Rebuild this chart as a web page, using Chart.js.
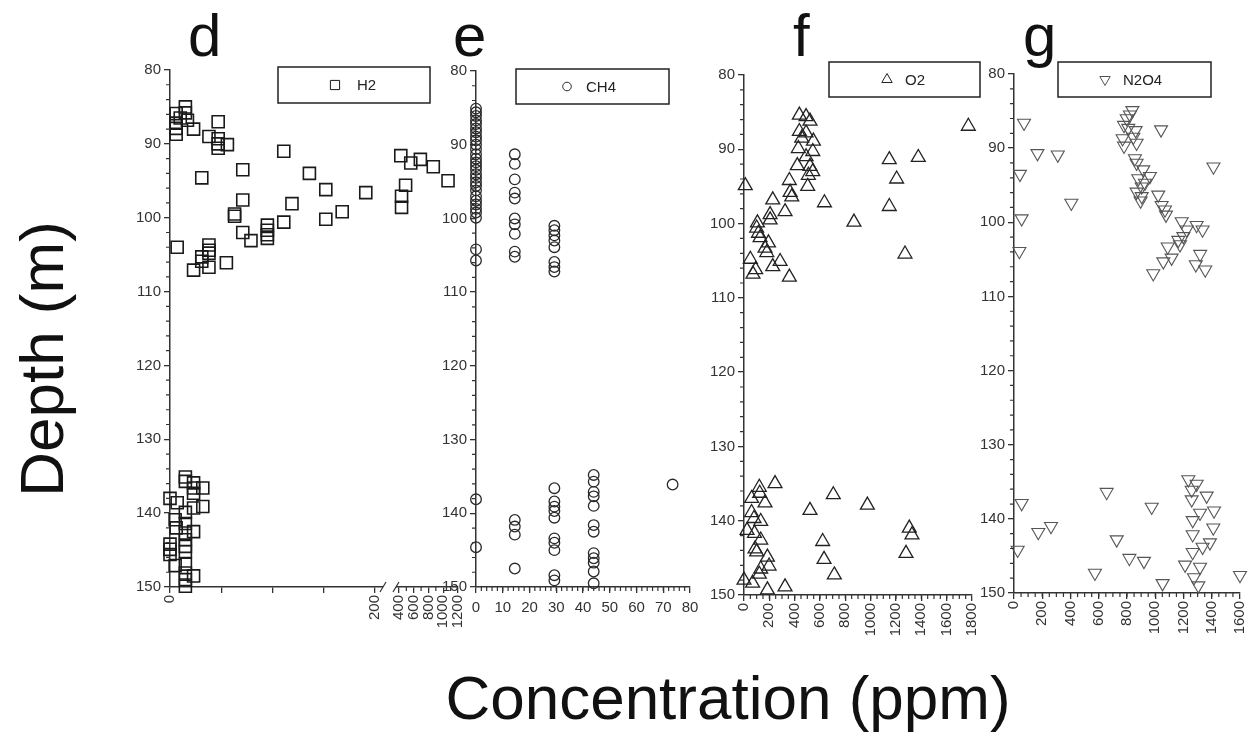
<!DOCTYPE html>
<html>
<head>
<meta charset="utf-8">
<script src="https://cdn.jsdelivr.net/npm/chart.js@4.4.1/dist/chart.umd.min.js"></script>
<style>
  body { margin: 0; width: 1251px; height: 752px; background: #fff; position: relative; overflow: hidden;
         font-family: 'Liberation Sans', Arial, sans-serif; }
  canvas { position: absolute; }
  .txt { position: absolute; color: #111; white-space: nowrap; line-height: 1; }
  .panel-letter { font-size: 60px; }
  .axis-title { font-size: 62px; transform: translate(-50%, -50%); }
</style>
</head>
<body>
<div class="txt panel-letter" style="left:188px; top:6px;">d</div>
<div class="txt panel-letter" style="left:453px; top:6px;">e</div>
<div class="txt panel-letter" style="left:793px; top:6px;">f</div>
<div class="txt panel-letter" style="left:1023px; top:6px;">g</div>
<div class="txt axis-title" style="left:42px; top:359px; transform: translate(-50%, -50%) rotate(-90deg);">Depth (m)</div>
<div class="txt axis-title" style="left:728px; top:698px;">Concentration (ppm)</div>

<script>
// ---- depth axis (shared by all four panels)
const depthTicks = [80, 90, 100, 110, 120, 130, 140, 150];

// ---- d: H2
const h2Ticks = [0, 50, 100, 150, 200, 400, 600, 800, 1000, 1200];
const h2Labels = [0, 200, 400, 600, 800, 1000, 1200];
const h2Conc = [
  15, 15, 6, 10, 6, 17, 6, 6, 23, 47, 38, 47, 47, 47, 56, 111, 31, 71, 71, 63, 63, 71, 79,
  95, 95, 95, 95, 111, 119, 136, 152, 152, 168, 191, 7, 23, 31, 31, 38, 38, 38, 38, 55,
  425, 560, 690, 865, 1065, 490, 435, 435,
  15, 15, 23, 23, 32, 23, 0, 7, 32, 23, 15, 5, 6, 23, 15, 15, 15, 15, 15, 0, 0, 0, 5, 15, 15, 15, 15, 23
];
const h2Depth = [
  85.0, 85.8, 85.9, 86.5, 87.2, 86.8, 87.9, 88.7, 88.0, 87.0, 89.0, 89.3, 90.0, 90.6, 90.1, 91.0, 94.6, 93.5, 97.6, 99.5, 99.8, 102.0, 103.1,
  101.0, 101.7, 102.3, 102.8, 100.6, 98.1, 94.0, 96.2, 100.2, 99.2, 96.6, 104.0, 107.1, 105.3, 105.9, 103.7, 104.4, 104.8, 106.7, 106.1,
  91.6, 92.6, 92.1, 93.1, 95.0, 95.6, 97.1, 98.6,
  135.1, 135.7, 135.9, 136.6, 136.6, 137.3, 138.0, 138.6, 139.1, 139.3, 139.9, 140.9, 142.0, 142.5, 141.4, 142.7, 143.6, 144.5, 145.2, 144.2, 144.9, 145.6, 147.1, 146.9, 148.1, 149.0, 149.9, 148.5
];

// ---- e: CH4
const ch4Ticks = [0, 10, 20, 30, 40, 50, 60, 70, 80];
const ch4Conc = [
  0, 0, 0, 0, 0, 0, 0, 0, 0, 0, 0, 0, 0, 0, 0, 0, 0, 0, 0, 0, 0, 0, 0, 0, 0, 0, 0, 0, 0, 0, 0,
  14.5, 14.5, 14.5, 14.5, 14.5, 14.5, 14.5, 14.5, 14.5, 14.5, 14.5, 14.5, 14.5, 14.5,
  29.3, 29.3, 29.3, 29.3, 29.3, 29.3, 29.3, 29.3, 29.3, 29.3, 29.3, 29.3, 29.3, 29.3, 29.3, 29.3, 29.3, 29.3,
  44, 44, 44, 44, 44, 44, 44, 44, 44, 44, 44, 44,
  73.5
];
const ch4Depth = [
  85.1, 85.6, 86.1, 86.7, 87.2, 87.8, 88.3, 88.9, 89.4, 90.0, 90.6, 91.3, 91.9, 92.4, 92.9, 93.4, 94.0, 94.5, 95.1, 95.6,
  96.2, 97.0, 97.6, 98.1, 98.7, 99.2, 99.9, 104.2, 105.7, 138.1, 144.6,
  91.3, 92.6, 94.7, 96.5, 97.3, 100.0, 100.8, 102.1, 104.5, 105.2, 140.9, 141.8, 142.9, 147.5,
  101.0, 101.6, 102.3, 103.0, 103.9, 105.9, 106.6, 107.2, 136.6, 138.4, 139.1, 139.7, 140.6, 143.4, 144.0, 145.0, 148.4, 149.1,
  134.8, 135.7, 137.1, 137.7, 139.0, 141.6, 142.5, 145.4, 146.1, 146.7, 147.9, 149.5,
  136.1
];

// ---- f: O2
const o2Ticks = [0, 200, 400, 600, 800, 1000, 1200, 1400, 1600, 1800];
const o2Conc = [
  10, 437, 490, 521, 437, 490, 456, 548, 429, 543, 490, 421, 521, 543, 508, 358, 503, 364, 377, 227, 635, 324, 206, 206, 868,
  1147, 1376, 1205, 1147, 1271, 106, 100, 114, 127, 193, 166, 180, 50, 285, 227, 92, 71, 358, 1771,
  245, 121, 60, 124, 166, 60, 79, 132, 24, 83, 132, 87, 100, 185, 198, 132, 121, 0, 68, 185, 324,
  521, 705, 974, 621, 632, 713, 1305, 1326, 1279
];
const o2Depth = [
  94.9, 85.4, 85.6, 86.2, 87.6, 87.8, 88.5, 88.9, 89.9, 90.3, 91.0, 92.2, 92.3, 93.0, 93.5, 94.2, 95.0, 95.8, 96.4, 96.8, 97.2, 98.4, 98.8, 99.5, 99.8,
  91.4, 91.1, 94.0, 97.7, 104.1, 99.9, 100.6, 101.3, 101.9, 102.6, 103.3, 103.9, 104.8, 105.1, 105.8, 106.2, 106.8, 107.2, 86.9,
  135.0, 135.5, 137.0, 136.3, 137.6, 138.9, 139.7, 140.1, 141.3, 141.7, 142.6, 143.8, 144.2, 144.9, 146.1, 146.5, 147.2, 148.0, 148.4, 149.3, 148.9,
  138.6, 136.5, 137.9, 142.8, 145.2, 147.3, 141.0, 141.9, 144.4
];

// ---- g: N2O4
const n2o4Ticks = [0, 200, 400, 600, 800, 1000, 1200, 1400, 1600];
const n2o4Conc = [
  71, 166, 310, 42, 406, 54, 38, 1041, 1412,
  838, 821, 798, 779, 809, 861, 769, 845, 868, 779, 856, 868, 915, 962, 880, 927, 904, 868, 904, 896,
  1021, 1045, 1069, 1076, 1187, 1293, 1335, 1222, 1199, 1163, 1088, 1175, 1116, 1057, 1318, 1287, 1354, 986,
  54, 26, 172, 262, 656, 727, 817, 920, 975, 573, 1052, 1600,
  1234, 1293, 1258, 1258, 1364, 1317, 1265, 1416, 1411, 1265, 1387, 1335, 1265, 1211, 1317, 1274, 1305
];
const n2o4Depth = [
  86.6, 90.7, 90.9, 93.5, 97.4, 99.5, 103.9, 87.5, 92.5,
  84.9, 85.5, 86.0, 86.9, 87.3, 87.6, 88.7, 88.5, 89.3, 89.7, 91.4, 92.0, 92.9, 93.8, 94.1, 94.7, 95.2, 95.9, 96.5, 97.1,
  96.3, 97.7, 98.3, 99.0, 99.9, 100.4, 101.0, 101.0, 101.9, 102.4, 103.3, 103.0, 104.8, 105.3, 104.3, 105.7, 106.4, 106.9,
  137.9, 144.2, 141.8, 141.0, 136.4, 142.8, 145.3, 145.7, 138.4, 147.3, 148.7, 147.6,
  134.7, 135.3, 136.1, 137.4, 136.9, 139.2, 140.2, 138.9, 141.2, 142.1, 143.2, 143.8, 144.5, 146.2, 146.5, 147.9, 149.0
];

const axisColor = '#333';
const fontFamily = "'Liberation Sans', Arial, sans-serif";
const PAD_L = 50, PAD_R = 14, PAD_T = 18, PAD_B = 50;

// linear scale with a gap (used by the H2 panel, 200 // 400)
class BrokenLinearScale extends Chart.LinearScale {
  static id = 'brokenLinear';
  getPixelForValue(value) {
    const b = this.options.brk;
    let dec;
    if (value <= b.from) dec = (value - this.min) / (b.from - this.min) * b.fromPos;
    else if (value >= b.to) dec = b.toPos + (value - b.to) / (this.max - b.to) * (1 - b.toPos);
    else dec = b.fromPos + (value - b.from) / (b.to - b.from) * (b.toPos - b.fromPos);
    return this.getPixelForDecimal(dec);
  }
  getValueForPixel(pixel) {
    const b = this.options.brk;
    const dec = this.getDecimalForPixel(pixel);
    if (dec <= b.fromPos) return this.min + dec / b.fromPos * (b.from - this.min);
    if (dec >= b.toPos) return b.to + (dec - b.toPos) / (1 - b.toPos) * (this.max - b.to);
    return b.from + (dec - b.fromPos) / (b.toPos - b.fromPos) * (b.to - b.from);
  }
}
Chart.register(BrokenLinearScale);

// short minor ticks + axis break marks
const minorTicks = {
  id: 'minorTicks',
  afterDraw(chart, args, opts) {
    const ctx = chart.ctx;
    const xs = chart.scales.x, ys = chart.scales.y;
    ctx.save();
    ctx.strokeStyle = axisColor;
    ctx.lineWidth = 1.2;
    ctx.beginPath();
    const xm = opts.xMinor;
    if (xm) {
      for (let v = xm.from; v <= xm.to + 1e-9; v += xm.step) {
        const px = xs.getPixelForValue(v);
        ctx.moveTo(px, xs.top);
        ctx.lineTo(px, xs.top + 4);
      }
    }
    for (let v = 80; v <= 150; v += 2) {
      if (v % 10 === 0) continue;
      const py = ys.getPixelForValue(v);
      ctx.moveTo(ys.right, py);
      ctx.lineTo(ys.right - 4, py);
    }
    ctx.stroke();
    if (opts.brk) {
      const x1 = xs.getPixelForValue(opts.brk.from) + 9;
      const x2 = xs.getPixelForValue(opts.brk.to) - 3;
      const yb = xs.top;
      ctx.fillStyle = '#fff';
      ctx.fillRect(x1 - 1, yb - 3, x2 - x1 + 1, 6);
      ctx.lineWidth = 1.2;
      ctx.beginPath();
      [x1 - 1, x2].forEach(px => {
        ctx.moveTo(px - 3, yb + 5);
        ctx.lineTo(px + 3, yb - 5);
      });
      ctx.stroke();
    }
    ctx.restore();
  }
};

// boxed legend like the original figure
const boxLegend = {
  id: 'boxLegend',
  beforeDatasetsDraw(chart, args, o) {
    const ctx = chart.ctx, a = chart.chartArea;
    const ds = chart.data.datasets[0];
    const bx = a.left + o.x, by = a.top + o.y;
    ctx.save();
    ctx.fillStyle = '#fff';
    ctx.fillRect(bx, by, o.w, o.h);
    ctx.strokeStyle = '#222';
    ctx.lineWidth = 1.5;
    ctx.strokeRect(bx, by, o.w, o.h);
    ctx.strokeStyle = ds.borderColor;
    ctx.fillStyle = 'rgba(0,0,0,0)';
    ctx.lineWidth = 1;
    Chart.helpers.drawPoint(ctx, {
      pointStyle: ds.pointStyle, radius: o.r, borderWidth: 1, rotation: ds.pointRotation || 0
    }, bx + o.mx, by + o.h / 2);
    ctx.fillStyle = '#222';
    ctx.font = '15px ' + fontFamily;
    ctx.textBaseline = 'middle';
    ctx.fillText(ds.label, bx + o.tx, by + o.h / 2 + 1);
    ctx.restore();
  }
};

function makePanel(cfg) {
  const a = cfg.area;
  const canvas = document.createElement('canvas');
  canvas.width = a.right - a.left + PAD_L + PAD_R;
  canvas.height = a.bottom - a.top + PAD_T + PAD_B;
  canvas.style.left = (a.left - PAD_L) + 'px';
  canvas.style.top = (a.top - PAD_T) + 'px';
  document.body.appendChild(canvas);

  const labels = cfg.xLabels || cfg.xTicks;
  new Chart(canvas, {
    type: 'scatter',
    data: {
      datasets: [{
        label: cfg.label,
        data: cfg.xs.map((x, i) => ({ x: x, y: cfg.ys[i] })),
        pointStyle: cfg.pointStyle,
        pointRotation: cfg.rotation || 0,
        pointRadius: cfg.radius,
        pointBorderWidth: cfg.lineWidth,
        borderColor: cfg.color,
        backgroundColor: 'rgba(0,0,0,0)',
        clip: false
      }]
    },
    options: {
      responsive: false,
      animation: false,
      events: [],
      layout: { padding: { top: PAD_T, right: PAD_R, left: 0, bottom: 0 }, autoPadding: false },
      plugins: {
        legend: { display: false },
        tooltip: { enabled: false },
        minorTicks: { xMinor: cfg.xMinor, brk: cfg.brk },
        boxLegend: cfg.legend
      },
      scales: {
        x: {
          type: cfg.brk ? 'brokenLinear' : 'linear',
          min: cfg.xTicks[0],
          max: cfg.xTicks[cfg.xTicks.length - 1],
          brk: cfg.brk,
          afterBuildTicks: s => { s.ticks = cfg.xTicks.map(v => ({ value: v })); },
          afterFit: s => { s.height = PAD_B; s.paddingLeft = 0; s.paddingRight = 0; },
          grid: { drawOnChartArea: false, drawTicks: true, tickLength: 6, color: axisColor, lineWidth: 1.3 },
          border: { display: true, color: axisColor, width: 1.5 },
          ticks: {
            autoSkip: false,
            minRotation: cfg.rotateLabels ? 90 : 0,
            maxRotation: cfg.rotateLabels ? 90 : 0,
            padding: cfg.rotateLabels ? 2 : 6,
            color: '#333',
            font: { family: fontFamily, size: 15 },
            callback: v => labels.includes(v) ? String(v) : ''
          }
        },
        y: {
          min: 80,
          max: 150,
          reverse: true,
          afterBuildTicks: s => { s.ticks = depthTicks.map(v => ({ value: v })); },
          afterFit: s => { s.width = PAD_L; s.paddingTop = 0; s.paddingBottom = 0; },
          grid: { drawOnChartArea: false, drawTicks: true, tickLength: 6, color: axisColor, lineWidth: 1.3 },
          border: { display: true, color: axisColor, width: 1.5 },
          ticks: { padding: 3, color: '#333', font: { family: fontFamily, size: 15 } }
        }
      }
    },
    plugins: [minorTicks, boxLegend]
  });
}

makePanel({
  area: { left: 170, right: 458, top: 70, bottom: 587 },
  label: 'H2', xs: h2Conc, ys: h2Depth,
  xTicks: h2Ticks, xLabels: h2Labels, rotateLabels: true,
  brk: { from: 200, to: 400, fromPos: 0.7118, toPos: 0.795 },
  xMinor: { from: 500, to: 1100, step: 200 },
  pointStyle: 'rect', radius: 8.5, lineWidth: 1.6, color: '#1a1a1a',
  legend: { x: 108, y: -3, w: 152, h: 36, mx: 57, tx: 79, r: 6.5 }
});

makePanel({
  area: { left: 476, right: 690, top: 71, bottom: 587 },
  label: 'CH4', xs: ch4Conc, ys: ch4Depth,
  xTicks: ch4Ticks, rotateLabels: false,
  xMinor: { from: 2, to: 78, step: 2 },
  pointStyle: 'circle', radius: 5.3, lineWidth: 1.3, color: '#2a2a2a',
  legend: { x: 40, y: -2, w: 153, h: 35, mx: 51, tx: 70, r: 4.3 }
});

makePanel({
  area: { left: 744, right: 972, top: 75, bottom: 595 },
  label: 'O2', xs: o2Conc, ys: o2Depth,
  xTicks: o2Ticks, rotateLabels: true,
  xMinor: { from: 50, to: 1750, step: 50 },
  pointStyle: 'triangle', radius: 8, lineWidth: 1.3, color: '#222',
  legend: { x: 85, y: -13, w: 151, h: 35, mx: 58, tx: 76, r: 6 }
});

makePanel({
  area: { left: 1014, right: 1240, top: 74, bottom: 593 },
  label: 'N2O4', xs: n2o4Conc, ys: n2o4Depth,
  xTicks: n2o4Ticks, rotateLabels: true,
  xMinor: { from: 50, to: 1550, step: 50 },
  pointStyle: 'triangle', rotation: 180, radius: 7.5, lineWidth: 1.1, color: '#555',
  legend: { x: 44, y: -12, w: 153, h: 35, mx: 47, tx: 65, r: 6 }
});
</script>
</body>
</html>
